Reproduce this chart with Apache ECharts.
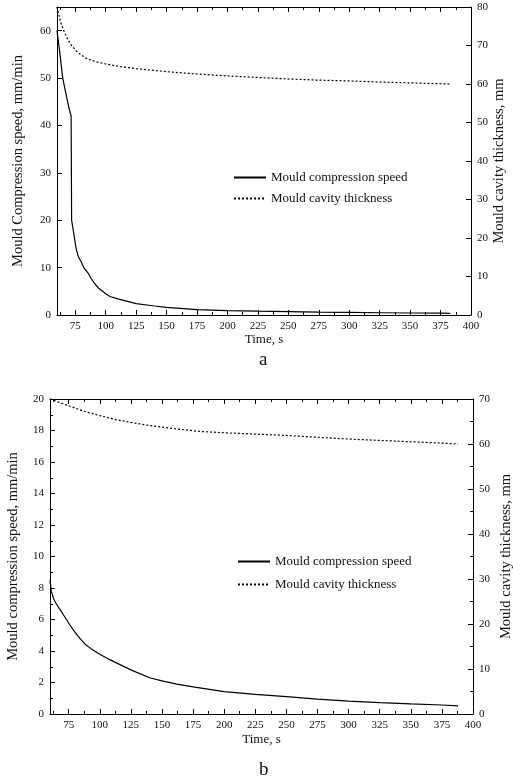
<!DOCTYPE html>
<html>
<head>
<meta charset="utf-8">
<script src="https://cdn.jsdelivr.net/npm/echarts@6/dist/echarts.min.js"></script>
<style>
html,body{margin:0;padding:0;background:#fff;}
#main{width:513px;height:782px;}
</style>
</head>
<body>
<div id="main"></div>
<script>
// ---- data (chart a) ----
const tSpeedA = [60, 62, 64.7, 67.5, 70, 71.6, 72, 73.7, 75.6, 77.5, 80, 82, 85.7, 88, 91, 94, 98, 100, 103.5, 110, 125, 140, 150, 175, 200, 225, 250, 275, 300, 325, 350, 375, 383];
const speedA  = [60, 56, 50, 46.5, 43.5, 42, 20, 17.3, 14.1, 12.3, 11.2, 10, 8.8, 7.7, 6.6, 5.7, 4.9, 4.5, 3.9, 3.4, 2.4, 1.9, 1.6, 1.15, 0.92, 0.8, 0.7, 0.62, 0.55, 0.48, 0.42, 0.38, 0.36];
const tThickA = [60, 61.5, 63, 66, 69, 72, 76, 80, 85, 92, 100, 112, 125, 150, 175, 200, 225, 250, 275, 300, 325, 350, 383];
const thickA  = [80, 78, 76, 73.5, 71.5, 70, 68.5, 67.5, 66.5, 65.8, 65.2, 64.5, 64, 63.2, 62.6, 62.1, 61.7, 61.3, 61, 60.8, 60.5, 60.3, 60];
// ---- data (chart b) ----
const tSpeedB = [60, 61, 63, 65, 70, 76, 80, 84, 88, 93, 100, 108, 125, 140, 150, 162, 175, 200, 225, 250, 275, 300, 325, 350, 375, 388];
const speedB  = [8.5, 7.8, 7.3, 7.0, 6.4, 5.65, 5.2, 4.8, 4.45, 4.15, 3.8, 3.45, 2.8, 2.3, 2.1, 1.9, 1.72, 1.42, 1.25, 1.1, 0.95, 0.82, 0.72, 0.64, 0.57, 0.52];
const tThickB = [60, 75, 87, 100, 113, 125, 140, 160, 180, 200, 225, 250, 275, 300, 325, 350, 375, 388];
const thickB  = [70, 68.5, 67.3, 66.3, 65.4, 64.8, 64.1, 63.4, 62.8, 62.5, 62.2, 61.9, 61.5, 61.1, 60.8, 60.5, 60.2, 60];
// ---- ticks / labels ----
const xMajorTicks = [75, 100, 125, 150, 175, 200, 225, 250, 275, 300, 325, 350, 375, 400];
const xMinorTicks = [62.5, 87.5, 112.5, 137.5, 162.5, 187.5, 212.5, 237.5, 262.5, 287.5, 312.5, 337.5, 362.5, 387.5];
const seriesNames = ['Mould compression speed', 'Mould cavity thickness'];
const xName = 'Time, s';
const yLeftNames = ['Mould Compression speed, mm/min', 'Mould compression speed, mm/min'];
const yRightName = 'Mould cavity thickness, mm';
const panelLabels = ['a', 'b'];

const FONT = 'Liberation Serif';
const INK = '#111';
const zip = (xs, ys) => xs.map((x, i) => [x, ys[i]]);

function xAxesFor(g, nameGap) {
  const base = {gridIndex: g, type: 'value', min: 60, max: 400, splitLine: {show: false}};
  return [
    Object.assign({}, base, {
      position: 'bottom',
      name: xName, nameLocation: 'middle', nameGap: nameGap,
      nameTextStyle: {fontFamily: FONT, fontSize: 13, color: INK},
      axisLine: {show: true, onZero: false, lineStyle: {color: '#000', width: 1}},
      axisTick: {show: true, inside: true, length: 5, customValues: xMajorTicks, lineStyle: {color: '#000'}},
      axisLabel: {show: true, margin: 6, fontFamily: FONT, fontSize: 11, color: INK, customValues: xMajorTicks}
    }),
    Object.assign({}, base, {
      position: 'bottom',
      axisLine: {show: false, onZero: false},
      axisTick: {show: true, inside: true, length: 3, customValues: xMinorTicks, lineStyle: {color: '#000'}},
      axisLabel: {show: false, customValues: xMinorTicks}
    }),
    Object.assign({}, base, {
      position: 'top',
      axisLine: {show: true, onZero: false, lineStyle: {color: '#000', width: 1}},
      axisTick: {show: true, inside: true, length: 5, customValues: xMajorTicks, lineStyle: {color: '#000'}},
      axisLabel: {show: false, customValues: xMajorTicks}
    }),
    Object.assign({}, base, {
      position: 'top',
      axisLine: {show: false, onZero: false},
      axisTick: {show: true, inside: true, length: 3, customValues: xMinorTicks, lineStyle: {color: '#000'}},
      axisLabel: {show: false, customValues: xMinorTicks}
    })
  ];
}

function yAxisFor(g, pos, max, interval, name, nameGap, minor) {
  return {
    gridIndex: g, type: 'value', position: pos, min: 0, max: max, interval: interval,
    name: name, nameLocation: 'middle', nameGap: nameGap, nameRotate: 90, nameMoveOverlap: false,
    nameTextStyle: {fontFamily: FONT, fontSize: 14.5, color: INK},
    splitLine: {show: false},
    axisLine: {show: true, onZero: false, lineStyle: {color: '#000', width: 1}},
    axisTick: {show: true, inside: true, length: 5, lineStyle: {color: '#000'}},
    minorTick: {show: minor, splitNumber: 2, length: 3, lineStyle: {color: '#000'}},
    axisLabel: {show: true, margin: 6, fontFamily: FONT, fontSize: 11, color: INK, showMaxLabel: max % interval === 0}
  };
}

const solid = {color: '#000', width: 1.2, type: 'solid'};
const dotted = {color: '#000', width: 1.2, type: [2, 2]};

function line(name, data, xi, yi, style) {
  return {
    type: 'line', name: name, data: data, xAxisIndex: xi, yAxisIndex: yi,
    showSymbol: false, symbol: 'none', lineStyle: style, itemStyle: {color: '#000'},
    animation: false, silent: true, z: 3
  };
}

function legendAt(left, top, gap) {
  return {
    orient: 'vertical', left: left, top: top, padding: 0,
    itemWidth: 32, itemHeight: 14, itemGap: gap,
    data: seriesNames, selectedMode: false,
    itemStyle: {opacity: 0, borderWidth: 0, color: 'rgba(0,0,0,0)'},
    textStyle: {fontFamily: FONT, fontSize: 13, color: INK}
  };
}

const option = {
  animation: false,
  backgroundColor: '#fff',
  textStyle: {fontFamily: FONT},
  title: [
    {text: panelLabels[0], left: 259, top: 351, padding: 0, textStyle: {fontFamily: FONT, fontSize: 19, fontWeight: 'normal', color: INK}},
    {text: panelLabels[1], left: 259, top: 761, padding: 0, textStyle: {fontFamily: FONT, fontSize: 19, fontWeight: 'normal', color: INK}}
  ],
  grid: [
    {left: 57, right: 42, top: 7, height: 308, containLabel: false, outerBoundsMode: 'none'},
    {left: 50, right: 40, top: 399, height: 315, containLabel: false, outerBoundsMode: 'none'}
  ],
  legend: [legendAt(233, 171, 8), legendAt(237, 555, 10)],
  xAxis: xAxesFor(0, 16).concat(xAxesFor(1, 19)),
  yAxis: [
    yAxisFor(0, 'left', 65, 10, yLeftNames[0], 31, false),
    yAxisFor(0, 'right', 80, 10, yRightName, 21, false),
    yAxisFor(1, 'left', 20, 2, yLeftNames[1], 29, true),
    yAxisFor(1, 'right', 70, 10, yRightName, 26, true)
  ],
  series: [
    line(seriesNames[0], zip(tSpeedA, speedA), 0, 0, solid),
    line(seriesNames[1], zip(tThickA, thickA), 0, 1, dotted),
    line(seriesNames[0], zip(tSpeedB, speedB), 4, 2, solid),
    line(seriesNames[1], zip(tThickB, thickB), 4, 3, dotted)
  ]
};

const chart = echarts.init(document.getElementById('main'), null, {renderer: 'canvas'});
chart.setOption(option);
</script>
</body>
</html>
